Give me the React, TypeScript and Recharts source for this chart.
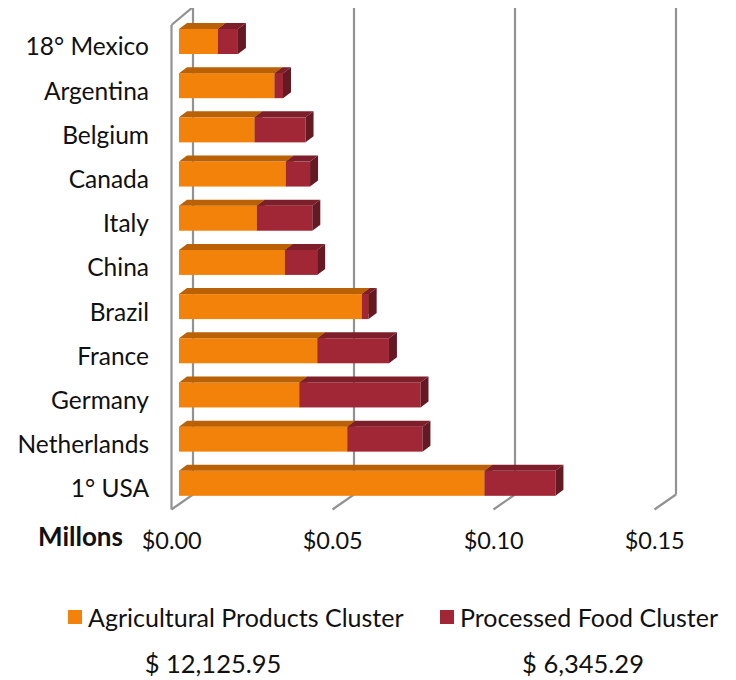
import React from 'react';
import { BarChart, Bar, XAxis, YAxis, CartesianGrid, Legend } from 'recharts';

const countries = ['18° Mexico', 'Argentina', 'Belgium', 'Canada', 'Italy', 'China', 'Brazil', 'France', 'Germany', 'Netherlands', '1° USA'];
const agricultural = [0.0121, 0.0297, 0.0235, 0.0332, 0.0242, 0.0329, 0.0568, 0.043, 0.0374, 0.0523, 0.0949];
const processed = [0.0062, 0.0026, 0.0158, 0.0075, 0.0172, 0.01, 0.0021, 0.0222, 0.0376, 0.0233, 0.022];
const xTicks = [0, 0.05, 0.1, 0.15];
const seriesNames = ['Agricultural Products Cluster', 'Processed Food Cluster'];
const totals = ['$ 12,125.95', '$ 6,345.29'];

const FONT = 'Lato, "Open Sans", sans-serif';
const GRID = '#929292';

// depth of the 3D look
const DX = 8;
const DY = 6;

const colors = {
    agri: { front: '#F3820A', top: '#B96104', side: '#A95804' },
    food: { front: '#A12736', top: '#7E1E2A', side: '#651A23' },
};

const data = countries.map((name, i) => ({
    name,
    agri: agricultural[i],
    food: processed[i],
}));

function box3d(c: { front: string; top: string; side: string }) {
    return (props: any) => {
        const { x, y, width, height } = props;
        if (width == null || width <= 0) return <g />;
        const r = x + width;
        return (
            <g>
                <rect x={x} y={y} width={width} height={height} fill={c.front} />
                <polygon
                    points={`${x},${y} ${x + DX},${y - DY} ${r + DX},${y - DY} ${r},${y}`}
                    fill={c.top}
                />
                <polygon
                    points={`${r},${y} ${r + DX},${y - DY} ${r + DX},${y + height - DY} ${r},${y + height}`}
                    fill={c.side}
                />
            </g>
        );
    };
}

// back wall gridline + floor slant, plus the left wall at zero
function gridLine(props: any) {
    const { x1, y1, y2, index } = props;
    const x = x1;
    const sw = 2.2;
    return (
        <g key={`gl-${index}-${x}`}>
            <line x1={x + 14} y1={y1 - 12} x2={x + 14} y2={y2 - 10.5} stroke={GRID} strokeWidth={sw} />
            <line x1={x + 14} y1={y2 - 10.5} x2={x - 7.5} y2={y2 + 4.5} stroke={GRID} strokeWidth={sw} />
            {index === 0 && (
                <>
                    <line x1={x - 7.5} y1={y1 + 6} x2={x - 7.5} y2={y2 + 4.5} stroke={GRID} strokeWidth={sw} />
                    <line x1={x - 7.5} y1={y1 + 6} x2={x + 14} y2={y1 - 12} stroke={GRID} strokeWidth={sw} />
                </>
            )}
        </g>
    );
}

function YTick(props: any) {
    const { x, y, payload } = props;
    return (
        <text x={x} y={y + 5.5} dy="0.36em" textAnchor="end" fontFamily={FONT} fontSize={24.5} fill="#111">
            {payload.value}
        </text>
    );
}

function XTick(props: any) {
    const { x, y, payload } = props;
    return (
        <text x={x - 7.3} y={y + 36} dy="0.36em" textAnchor="middle" fontFamily={FONT} fontSize={23.5} fill="#111">
            ${Number(payload.value).toFixed(2)}
        </text>
    );
}

function LegendContent() {
    const items = [
        { label: seriesNames[0], color: colors.agri.front, left: 60 },
        { label: seriesNames[1], color: colors.food.front, left: 432 },
    ];
    return (
        <div style={{ position: 'relative', height: 30, fontFamily: FONT }}>
            {items.map((it) => (
                <div key={it.label} style={{ position: 'absolute', left: it.left, top: 0, display: 'flex', alignItems: 'center' }}>
                    <span style={{ width: 14, height: 14, background: it.color, display: 'inline-block', marginRight: 6 }} />
                    <span style={{ fontSize: 25, color: '#111', lineHeight: '30px' }}>{it.label}</span>
                </div>
            ))}
        </div>
    );
}

export default function App() {
    return (
        <div style={{ position: 'relative', width: 720, height: 672 }}>
            <BarChart
                width={720}
                height={664}
                data={data}
                layout="vertical"
                margin={{ top: 11, right: 66, left: 0, bottom: 128 }}
                barSize={25}
            >
                <CartesianGrid horizontal={false} vertical={gridLine} />
                <XAxis
                    type="number"
                    domain={[0, 0.15]}
                    ticks={xTicks}
                    height={39}
                    axisLine={false}
                    tickLine={false}
                    tickSize={0}
                    tickMargin={0}
                    tick={<XTick />}
                    interval={0}
                />
                <YAxis
                    type="category"
                    dataKey="name"
                    width={171}
                    axisLine={false}
                    tickLine={false}
                    tickSize={0}
                    tickMargin={30}
                    tick={<YTick />}
                    interval={0}
                />
                <Legend
                    verticalAlign="middle"
                    align="center"
                    layout="horizontal"
                    wrapperStyle={{ top: 594, left: 0, width: 720 }}
                    content={<LegendContent />}
                />
                <Bar dataKey="agri" name={seriesNames[0]} stackId="a" fill={colors.agri.front} shape={box3d(colors.agri)} isAnimationActive={false} />
                <Bar dataKey="food" name={seriesNames[1]} stackId="a" fill={colors.food.front} shape={box3d(colors.food)} isAnimationActive={false} />
            </BarChart>
            <div style={{ position: 'absolute', left: 30, top: 514, fontFamily: FONT, fontWeight: 700, fontSize: 26, lineHeight: '28px', color: '#111' }}>
                Millons
            </div>
            {totals.map((t, i) => (
                <div
                    key={t}
                    style={{
                        position: 'absolute',
                        left: i === 0 ? 105 : 475,
                        width: 200,
                        textAlign: 'center',
                        top: 639,
                        fontFamily: FONT,
                        fontSize: 25.5,
                        lineHeight: '32px',
                        color: '#111',
                    }}
                >
                    {t}
                </div>
            ))}
        </div>
    );
}
